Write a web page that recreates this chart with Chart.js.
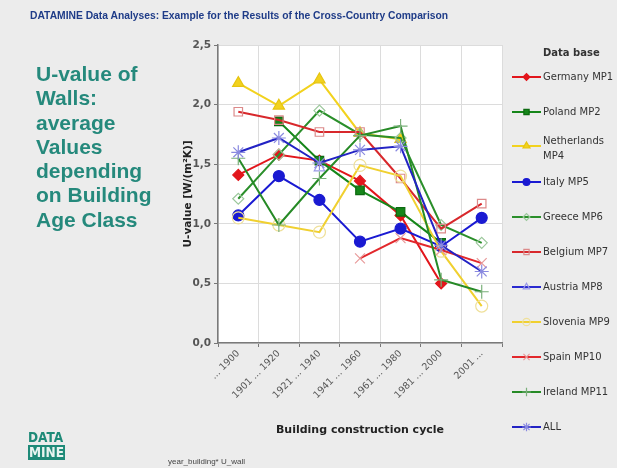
<!DOCTYPE html>
<html>
<head>
<meta charset="utf-8">
<script src="https://cdn.jsdelivr.net/npm/chart.js@4.4.1/dist/chart.umd.min.js"></script>
<style>
  html, body { margin: 0; padding: 0; background: #ececec; }
  #wrap { position: relative; width: 617px; height: 468px; overflow: hidden; }
  #c { position: absolute; left: 0; top: 0; }
  .head { position: absolute; left: 30px; top: 10px; font: bold 10.3px "Liberation Sans", Arial, sans-serif; color: #1f3c88; white-space: nowrap; }
  .side { position: absolute; left: 36px; top: 62px; font: bold 21px "Liberation Sans", Arial, sans-serif; line-height: 24.3px; color: #25897c; }
  .logo { position: absolute; left: 28px; top: 430px; font: bold 13.5px "DejaVu Sans Condensed", "DejaVu Sans", sans-serif; line-height: 15px; color: #1e8a78; }
  .logo span { display: block; }
  .logo .m { display: inline-block; background: #1e8a78; color: #e8f4f0; padding: 0 1px; }
  .foot { position: absolute; left: 168px; top: 457px; font: 8px "Liberation Sans", Arial, sans-serif; color: #444; }
</style>
</head>
<body>
<div id="wrap">
  <canvas id="c" width="617" height="468"></canvas>
  <div class="head">DATAMINE Data Analyses: Example for the Results of the Cross-Country Comparison</div>
  <div class="side">U-value of<br>Walls:<br>average<br>Values<br>depending<br>on Building<br>Age Class</div>
  <div class="logo"><span>DATA</span><span class="m">MINE</span></div>
  <div class="foot">year_building* U_wall</div>
</div>
<script>
// building age classes
const categories = ['... 1900', '1901 ... 1920', '1921 ... 1940', '1941 ... 1960', '1961 ... 1980', '1981 ... 2000', '2001 ...'];
const yTicks = [0, 0.5, 1.0, 1.5, 2.0, 2.5];

// U-values [W/(m²K)] per country
const germany     = [1.41, 1.58, 1.53, 1.36, 1.07, 0.50, null];
const poland      = [null, 1.86, 1.53, 1.28, 1.10, 0.84, null];
const netherlands = [2.18, 1.99, 2.21, 1.76, 1.71, null, null];
const italy       = [1.07, 1.40, 1.20, 0.85, 0.96, 0.81, 1.05];
const greece      = [1.21, 1.58, 1.95, 1.75, 1.72, 0.99, 0.84];
const belgium     = [1.94, 1.87, 1.77, 1.77, 1.38, 0.96, 1.17];
const austria     = [null, null, 1.47, null, null, null, null];
const slovenia    = [1.05, 0.99, 0.93, 1.49, 1.40, 0.77, 0.31];
const spain       = [null, null, null, 0.71, 0.88, 0.78, 0.67];
const ireland     = [1.55, 0.99, 1.38, 1.74, 1.82, 0.53, 0.43];
const allCountries = [1.60, 1.72, 1.51, 1.62, 1.65, 0.82, 0.60];

function series(label, data, line, style, fill, border, radius) {
  return {
    label: label,
    data: data,
    borderColor: line,
    borderWidth: 2,
    pointStyle: style,
    pointRadius: radius,
    pointBackgroundColor: fill,
    pointBorderColor: border,
    pointBorderWidth: 1.2,
    tension: 0,
    spanGaps: false
  };
}

const datasets = [
  series('Germany MP1', germany, '#e2161c', 'rectRot', '#e2161c', '#e2161c', 5.5),
  series('Poland MP2', poland, '#16861a', 'rect', '#16861a', '#0c6a10', 6),
  series(['Netherlands', 'MP4'], netherlands, '#f2d21e', 'triangle', '#f2d21e', '#e6c410', 6.5),
  series('Italy MP5', italy, '#1a1ad2', 'circle', '#1a1ad2', '#1a1ad2', 5.5),
  series('Greece MP6', greece, '#2b8f2b', 'rectRot', 'rgba(0,0,0,0)', '#9cc89c', 5.5),
  series('Belgium MP7', belgium, '#d8282c', 'rect', 'rgba(0,0,0,0)', '#dc8a8a', 6),
  series('Austria MP8', austria, '#2a2ad0', 'triangle', 'rgba(0,0,0,0)', '#9a9ae6', 6),
  series('Slovenia MP9', slovenia, '#f0d030', 'circle', 'rgba(0,0,0,0)', '#efe09a', 6),
  series('Spain MP10', spain, '#e2282c', 'crossRot', 'rgba(0,0,0,0)', '#e89a9a', 7),
  series('Ireland MP11', ireland, '#268a26', 'cross', 'rgba(0,0,0,0)', '#7ab07a', 7),
  series('ALL', allCountries, '#2323c4', 'star', 'rgba(0,0,0,0)', '#8a8ae0', 7)
];
// later series drawn on top
datasets.forEach((d, i) => { d.order = datasets.length - i; });

const legendY = [77, 112, 146, 182, 217, 252, 287, 322, 357, 392, 427];

const plotBg = {
  id: 'plotBg',
  beforeDraw(chart) {
    const a = chart.chartArea, ctx = chart.ctx;
    ctx.save();
    ctx.fillStyle = '#ffffff';
    ctx.fillRect(a.left, a.top, a.right - a.left, a.bottom - a.top);
    ctx.restore();
  }
};

const sideLegend = {
  id: 'sideLegend',
  afterDraw(chart) {
    const ctx = chart.ctx;
    ctx.save();
    ctx.fillStyle = '#333';
    ctx.font = 'bold 10px "DejaVu Sans", sans-serif';
    ctx.textBaseline = 'middle';
    ctx.fillText('Data base', 543, 53);
    chart.data.datasets.forEach((ds, i) => {
      const y = legendY[i];
      ctx.strokeStyle = ds.borderColor;
      ctx.lineWidth = 2;
      ctx.beginPath();
      ctx.moveTo(512, y);
      ctx.lineTo(541, y);
      ctx.stroke();
      ctx.fillStyle = ds.pointBackgroundColor;
      ctx.strokeStyle = ds.pointBorderColor;
      ctx.lineWidth = 1.2;
      Chart.helpers.drawPoint(ctx, {pointStyle: ds.pointStyle, radius: ds.pointRadius * 0.62, rotation: 0, borderWidth: 1.2}, 526.5, y);
      ctx.fillStyle = '#333';
      ctx.font = '10px "DejaVu Sans", sans-serif';
      if (Array.isArray(ds.label)) {
        ctx.fillText(ds.label[0], 543, y - 5);
        ctx.fillText(ds.label[1], 543, y + 10);
      } else {
        ctx.fillText(ds.label, 543, y);
      }
    });
    ctx.restore();
  }
};

new Chart(document.getElementById('c'), {
  type: 'line',
  data: { labels: categories, datasets: datasets },
  options: {
    responsive: false,
    animation: false,
    layout: { padding: { left: 178, top: 45, right: 115, bottom: 27 } },
    plugins: { legend: { display: false }, tooltip: { enabled: false } },
    scales: {
      x: {
        offset: true,
        afterFit(s) { s.height = 98; },
        grid: { offset: true, color: '#dcdcdc', tickColor: '#777', tickLength: 4 },
        border: { color: '#7a7a7a', width: 1.5 },
        ticks: { minRotation: 45, maxRotation: 45, color: '#555', padding: 1, font: { family: '"DejaVu Sans", sans-serif', size: 9.5 } },
        title: { display: true, text: 'Building construction cycle', color: '#222', padding: { top: 2, bottom: 4 }, font: { family: '"DejaVu Sans", sans-serif', size: 11, weight: 'bold' } }
      },
      y: {
        min: 0,
        max: 2.5,
        afterFit(s) { s.width = 40; },
        afterBuildTicks(s) { s.ticks = yTicks.map(v => ({ value: v })); },
        grid: { color: '#dcdcdc', tickColor: '#777', tickLength: 4 },
        border: { color: '#7a7a7a', width: 1.5 },
        ticks: { color: '#555', padding: 3, font: { family: '"DejaVu Sans", sans-serif', size: 10.5, weight: 'bold' },
                 callback: v => v.toFixed(1).replace('.', ',') },
        title: { display: true, text: 'U-value [W/(m²K)]', color: '#222', padding: { top: 4, bottom: 2 }, font: { family: '"DejaVu Sans", sans-serif', size: 10.5, weight: 'bold' } }
      }
    }
  },
  plugins: [plotBg, sideLegend]
});
</script>
</body>
</html>
